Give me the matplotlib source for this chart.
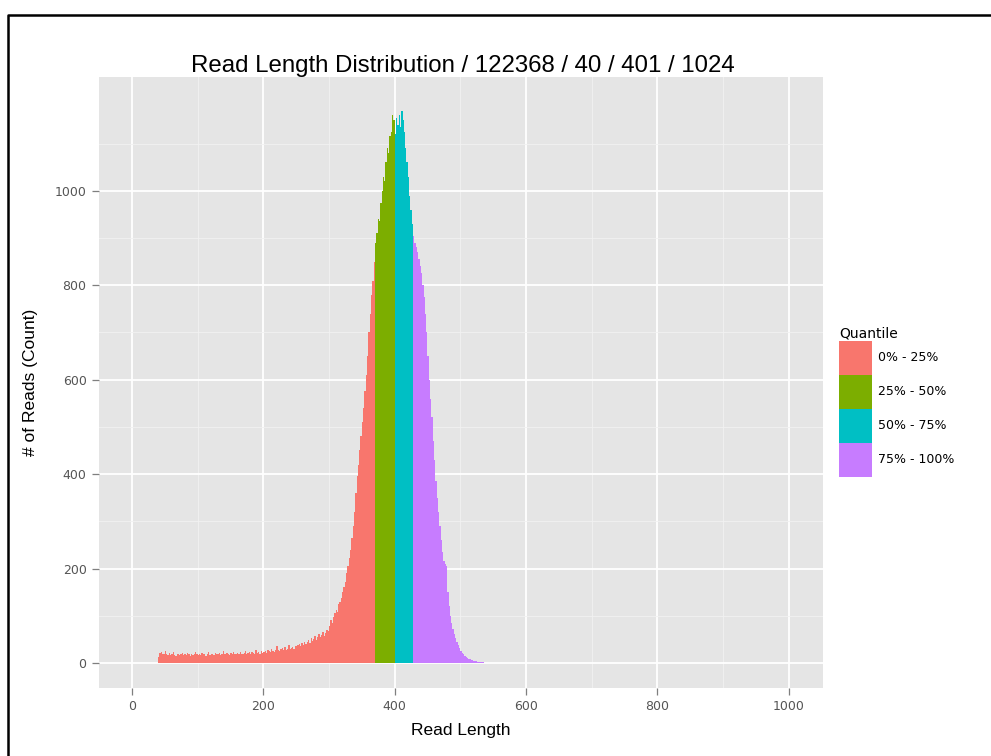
import matplotlib
matplotlib.use("Agg")
import matplotlib.pyplot as plt
from matplotlib.lines import Line2D
from matplotlib.patches import Patch
import numpy as np

# ---- data (read length histogram, counts per read length, bins of 2) ----
bin_width = 2
first_length = 40
counts_0_25 = [
    12, 22, 24, 20, 18, 26, 19, 17, 21, 16, 18, 23, 17, 15, 19, 20, 16, 18, 22, 17,
    19, 16, 21, 18, 15, 20, 17, 19, 24, 18,
    17, 19, 16, 21, 18, 20, 15, 19, 23, 17, 18, 20, 16, 22, 19, 18, 21, 17, 20, 26,
    19, 18, 22, 20, 17, 21, 19, 23, 18, 20,
    21, 19, 24, 20, 18, 22, 25, 19, 21, 23, 20, 24, 22, 19, 27, 21, 23, 20, 25, 22,
    24, 26, 22, 28, 25, 23, 30, 26, 24, 28, 35, 27, 25, 29, 31, 27, 33, 28, 30, 38,
    29, 32, 34, 30, 36,
    35, 38, 40, 36, 42, 39, 45, 41, 44, 48, 43, 52, 46, 50, 58, 49, 54, 62, 55, 60,
    66, 58, 64, 70, 68,
    78, 90, 84, 98, 105, 112, 108, 125, 130, 138, 150, 160, 172, 190, 205, 222, 240,
    265, 290, 320, 360, 395, 420, 450, 480, 510, 540, 575, 610, 650, 700, 740, 780,
    810, 850,
]
counts_25_50 = [890, 910, 940, 935, 975, 1000, 1030, 1020, 1060, 1090, 1080, 1115,
                1125, 1160, 1150]
counts_50_75 = [1120, 1155, 1140, 1160, 1135, 1168, 1150, 1125, 1090, 1060, 1030,
                990, 960, 930]
counts_75_100 = [
    905, 890, 880, 870, 855, 840, 825, 800, 775, 740,
    700, 650, 600, 560, 520, 470, 430, 385, 350, 320,
    290, 260, 235, 215, 210, 205, 150, 120, 100, 85,
    72, 62, 52, 45, 38, 32, 26, 22, 18, 15,
    12, 10, 9, 8, 7, 6, 5, 5, 4, 3,
    3, 2, 2, 2, 1, 1, 1, 1, 0, 1,
    0, 1, 0, 1, 0, 1,
]
quantile_labels = ["0% - 25%", "25% - 50%", "50% - 75%", "75% - 100%"]
quantile_colors = ["#F8766D", "#7CAE00", "#00BFC4", "#C77CFF"]
x_ticks = [0, 200, 400, 600, 800, 1000]
y_ticks = [0, 200, 400, 600, 800, 1000]
title = "Read Length Distribution / 122368 / 40 / 401 / 1024"

# ---- figure ----
W, H = 991, 756
fig = plt.figure(figsize=(W / 100, H / 100), dpi=100)
fig.patch.set_facecolor("white")

ax = fig.add_axes([99 / W, 1 - 688 / H, (823 - 99) / W, (688 - 77) / H])
ax.set_facecolor("#E5E5E5")
for s in ax.spines.values():
    s.set_visible(False)

groups = [counts_0_25, counts_25_50, counts_50_75, counts_75_100]
start = first_length
for vals, col in zip(groups, quantile_colors):
    xs = start + bin_width * np.arange(len(vals))
    ax.bar(xs, vals, width=bin_width, align="edge", color=col, linewidth=0,
           zorder=3)
    start = start + bin_width * len(vals)

ax.set_xlim(-50, 1052)
ax.set_ylim(-53, 1241)
ax.set_xticks(x_ticks)
ax.set_yticks(y_ticks)
ax.set_xticks([100, 300, 500, 700, 900], minor=True)
ax.set_yticks([100, 300, 500, 700, 900, 1100], minor=True)
ax.grid(which="major", color="white", linewidth=1.3, zorder=1)
ax.grid(which="minor", color="#F2F2F2", linewidth=0.6, zorder=1)
ax.set_axisbelow(True)
ax.tick_params(which="major", length=5, width=0.9, color="#7F7F7F",
               labelsize=9, labelcolor="#555555", pad=4)
ax.tick_params(which="minor", length=0)
for lab in ax.get_xticklabels() + ax.get_yticklabels():
    lab.set_family("DejaVu Sans")

ax.set_xlabel("Read Length", fontsize=12.5, family="Liberation Sans", labelpad=7)
ax.set_ylabel("# of Reads (Count)", fontsize=12.5, family="Liberation Sans",
              labelpad=12)
fig.text(463 / W, 1 - 72 / H, title, ha="center", va="baseline", fontsize=17.3,
         family="Liberation Sans")

# legend
handles = [Patch(facecolor=c, edgecolor="none") for c in quantile_colors]
leg = fig.legend(handles, quantile_labels, title="Quantile",
                 loc="upper left", bbox_to_anchor=(830 / W, 1 - 318 / H),
                 frameon=False, fontsize=9, title_fontsize=10,
                 handlelength=2.64, handleheight=3.81, handletextpad=0.5,
                 labelspacing=0.0, borderpad=0.2, alignment="left")

# outer border (screenshot frame)
fig.add_artist(Line2D([8 / W, 8 / W, 1.0], [0.0, 1 - 15 / H, 1 - 15 / H],
                      transform=fig.transFigure, color="black", linewidth=1.8))

fig.savefig("out.png", dpi=100)
